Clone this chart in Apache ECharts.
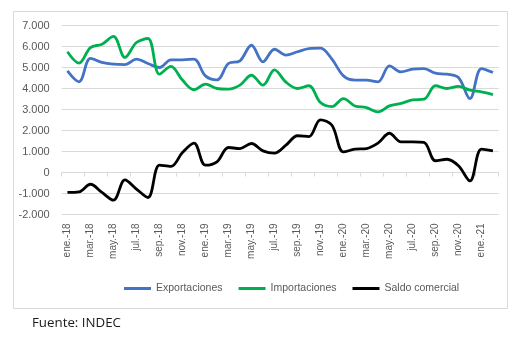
<!DOCTYPE html>
<html>
<head>
<meta charset="utf-8">
<script src="https://cdn.jsdelivr.net/npm/echarts@6/dist/echarts.min.js"></script>
<style>html,body{margin:0;padding:0;background:#fff;}#c{width:524px;height:343px;}</style>
</head>
<body>
<div id="c"></div>
<script>
const categories = ['ene.-18','feb.-18','mar.-18','abr.-18','may.-18','jun.-18','jul.-18','ago.-18','sep.-18','oct.-18','nov.-18','dic.-18',
  'ene.-19','feb.-19','mar.-19','abr.-19','may.-19','jun.-19','jul.-19','ago.-19','sep.-19','oct.-19','nov.-19','dic.-19',
  'ene.-20','feb.-20','mar.-20','abr.-20','may.-20','jun.-20','jul.-20','ago.-20','sep.-20','oct.-20','nov.-20','dic.-20',
  'ene.-21','feb.-21'];
const exportaciones = [4840,4320,5430,5240,5160,5140,5400,5190,5000,5360,5360,5400,
  4600,4410,5190,5320,6060,5270,5870,5590,5750,5900,5920,5400,
  4600,4400,4400,4320,5080,4790,4920,4950,4730,4680,4520,3520,4950,4760];
const importaciones = [5750,5210,5950,6110,6480,5480,6190,6380,4680,5050,4400,3940,
  4210,4000,3970,4160,4630,4160,4890,4300,4000,4130,3330,3140,
  3520,3170,3090,2890,3170,3290,3460,3490,4130,4000,4100,3920,3840,3710];
const saldo = [-950,-920,-560,-950,-1320,-350,-790,-1190,350,290,950,1400,
  350,510,1190,1140,1380,1030,920,1300,1750,1710,2510,2250,
  980,1110,1140,1400,1870,1460,1460,1430,560,630,320,-400,1110,1030];
const yTicks = {min:-2000, max:7000, interval:1000};

const chart = echarts.init(document.getElementById('c'), null, {renderer:'canvas'});
const fmt = v => { const s = Math.abs(v).toString().replace(/\B(?=(\d{3})+(?!\d))/g,'.'); return (v<0?'-':'')+s; };
const font = 'Liberation Sans, Arial, sans-serif';
function mk(name, data, color){
  return {name, type:'line', data, smooth:0.35, symbol:'none', xAxisIndex:0,
    lineStyle:{color, width:2.8}, itemStyle:{color}};
}
chart.setOption({
  animation:false,
  graphic:[
    {type:'rect', shape:{x:13.5,y:11.5,width:494,height:297}, style:{fill:'none', stroke:'#d9d9d9', lineWidth:1}, z:-1},
    {type:'text', left:32, top:317, style:{text:'Fuente: INDEC', font:'13.3px "Open Sans", sans-serif', fill:'#1a1a1a'}}
  ],
  grid:{left:61.7, right:25.3, top:25.5, bottom:128.5},
  legend:{left:119, top:278, itemWidth:27, itemHeight:3, itemGap:16, icon:'rect',
    textStyle:{color:'#595959', fontSize:10.5, fontFamily:font},
    data:['Exportaciones','Importaciones','Saldo comercial']},
  xAxis:[
    {type:'category', data:categories, boundaryGap:true,
     axisLine:{onZero:true, lineStyle:{color:'#d9d9d9'}},
     axisTick:{show:true, interval:1, length:4, lineStyle:{color:'#d9d9d9'}},
     axisLabel:{show:false}, splitLine:{show:false}},
    {type:'category', data:categories, boundaryGap:true, position:'bottom',
     axisLine:{show:false, onZero:false}, axisTick:{show:false},
     axisLabel:{interval:1, rotate:90, margin:9, color:'#595959', fontSize:10, fontFamily:font},
     splitLine:{show:false}}
  ],
  yAxis:{type:'value', min:yTicks.min, max:yTicks.max, interval:yTicks.interval,
    axisLine:{show:false}, axisTick:{show:false},
    axisLabel:{formatter:fmt, color:'#595959', fontSize:11, fontFamily:font, margin:12},
    splitLine:{lineStyle:{color:'#d9d9d9', width:1}}},
  series:[
    mk('Exportaciones', exportaciones, '#4472C4'),
    mk('Importaciones', importaciones, '#00B050'),
    mk('Saldo comercial', saldo, '#000000')
  ]
});
</script>
</body>
</html>
